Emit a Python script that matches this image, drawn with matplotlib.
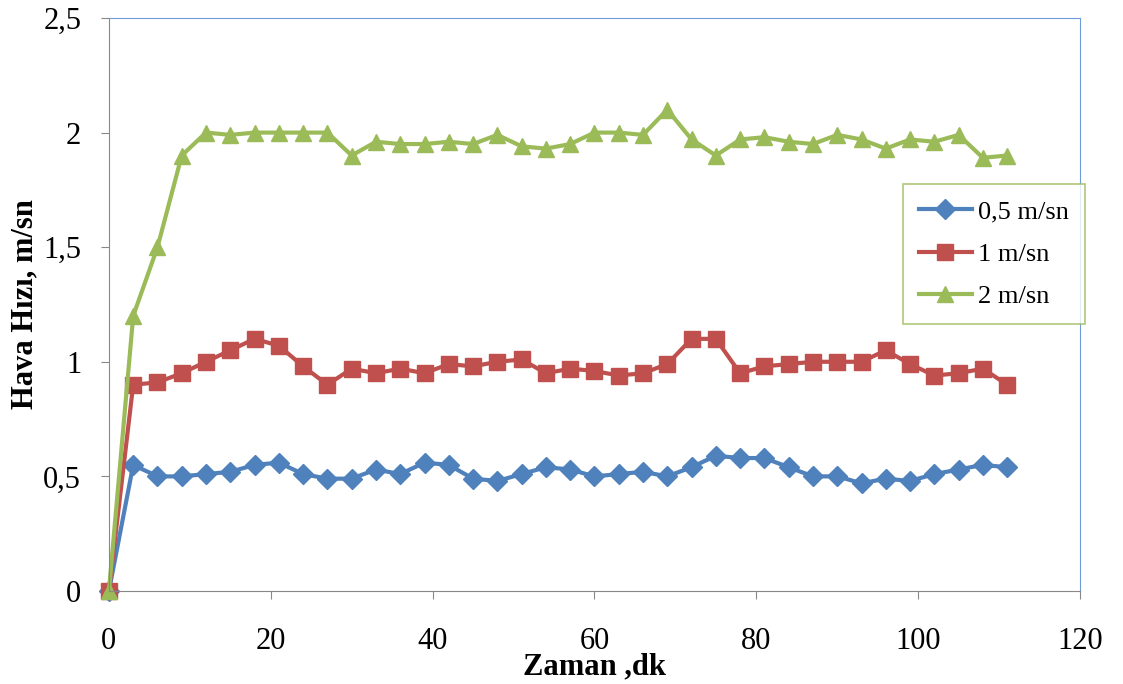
import matplotlib
matplotlib.use("Agg")
import matplotlib.pyplot as plt

zaman = list(range(0, 112, 3))
v05 = [0, 0.55, 0.50, 0.50, 0.51, 0.52, 0.55, 0.56, 0.51, 0.49, 0.49, 0.53, 0.51,
       0.56, 0.55, 0.49, 0.48, 0.51, 0.54, 0.53, 0.50, 0.51, 0.52, 0.50, 0.54,
       0.59, 0.58, 0.58, 0.54, 0.50, 0.50, 0.47, 0.49, 0.48, 0.51, 0.53, 0.55, 0.54]
v1 = [0, 0.90, 0.91, 0.95, 1.00, 1.05, 1.10, 1.07, 0.98, 0.90, 0.97, 0.95, 0.97,
      0.95, 0.99, 0.98, 1.00, 1.01, 0.95, 0.97, 0.96, 0.94, 0.95, 0.99, 1.10,
      1.10, 0.95, 0.98, 0.99, 1.00, 1.00, 1.00, 1.05, 0.99, 0.94, 0.95, 0.97, 0.90]
v2 = [0, 1.20, 1.50, 1.90, 2.00, 1.99, 2.00, 2.00, 2.00, 2.00, 1.90, 1.96, 1.95,
      1.95, 1.96, 1.95, 1.99, 1.94, 1.93, 1.95, 2.00, 2.00, 1.99, 2.10, 1.97,
      1.90, 1.97, 1.98, 1.96, 1.95, 1.99, 1.97, 1.93, 1.97, 1.96, 1.99, 1.89, 1.90]
etiketler = ['0,5 m/sn', '1 m/sn', '2 m/sn']

plt.rcParams['font.family'] = ['Liberation Serif', 'DejaVu Serif']

fig = plt.figure(figsize=(11.23, 6.84), dpi=100)
ax = fig.add_axes([0.097, 0.136, 0.8647, 0.8377])

ax.plot(zaman, v05, color='#4F81BD', lw=3, marker='D', ms=10, label=etiketler[0], clip_on=False)
ax.plot(zaman, v1, color='#C0504D', lw=3, marker='s', ms=11, label=etiketler[1], clip_on=False)
ax.plot(zaman, v2, color='#9BBB59', lw=3, marker='^', ms=11, label=etiketler[2], clip_on=False)

ax.set_xlim(0, 120)
ax.set_ylim(0, 2.5)
ax.set_xticks(range(0, 121, 20))
ax.set_yticks([0, 0.5, 1, 1.5, 2, 2.5])
ax.set_yticklabels(['0', '0,5', '1', '1,5', '2', '2,5'])
ax.tick_params(labelsize=22, direction='out', length=6, color='#888888')
ax.tick_params(axis='y', pad=14)
ax.tick_params(axis='x', pad=20)
for s in ['left', 'bottom']:
    ax.spines[s].set_color('#888888')
for s in ['top', 'right']:
    ax.spines[s].set_color('#6F9BD8')

ax.set_xlabel('Zaman ,dk', fontsize=22, fontweight='bold', labelpad=-3)
ax.set_ylabel('Hava Hızı, m/sn', fontsize=22, fontweight='bold', labelpad=3)

leg = ax.legend(loc='upper left', bbox_to_anchor=(903 / 1123, 1 - 184 / 684),
                bbox_transform=fig.transFigure, borderaxespad=0, fontsize=19,
                frameon=True, fancybox=False, handlelength=2.0, handletextpad=0.25,
                labelspacing=0.72, borderpad=0.6)
leg.get_frame().set_edgecolor('#9BBB59')
leg.get_frame().set_linewidth(1.2)

plt.savefig('out.png', dpi=100)
